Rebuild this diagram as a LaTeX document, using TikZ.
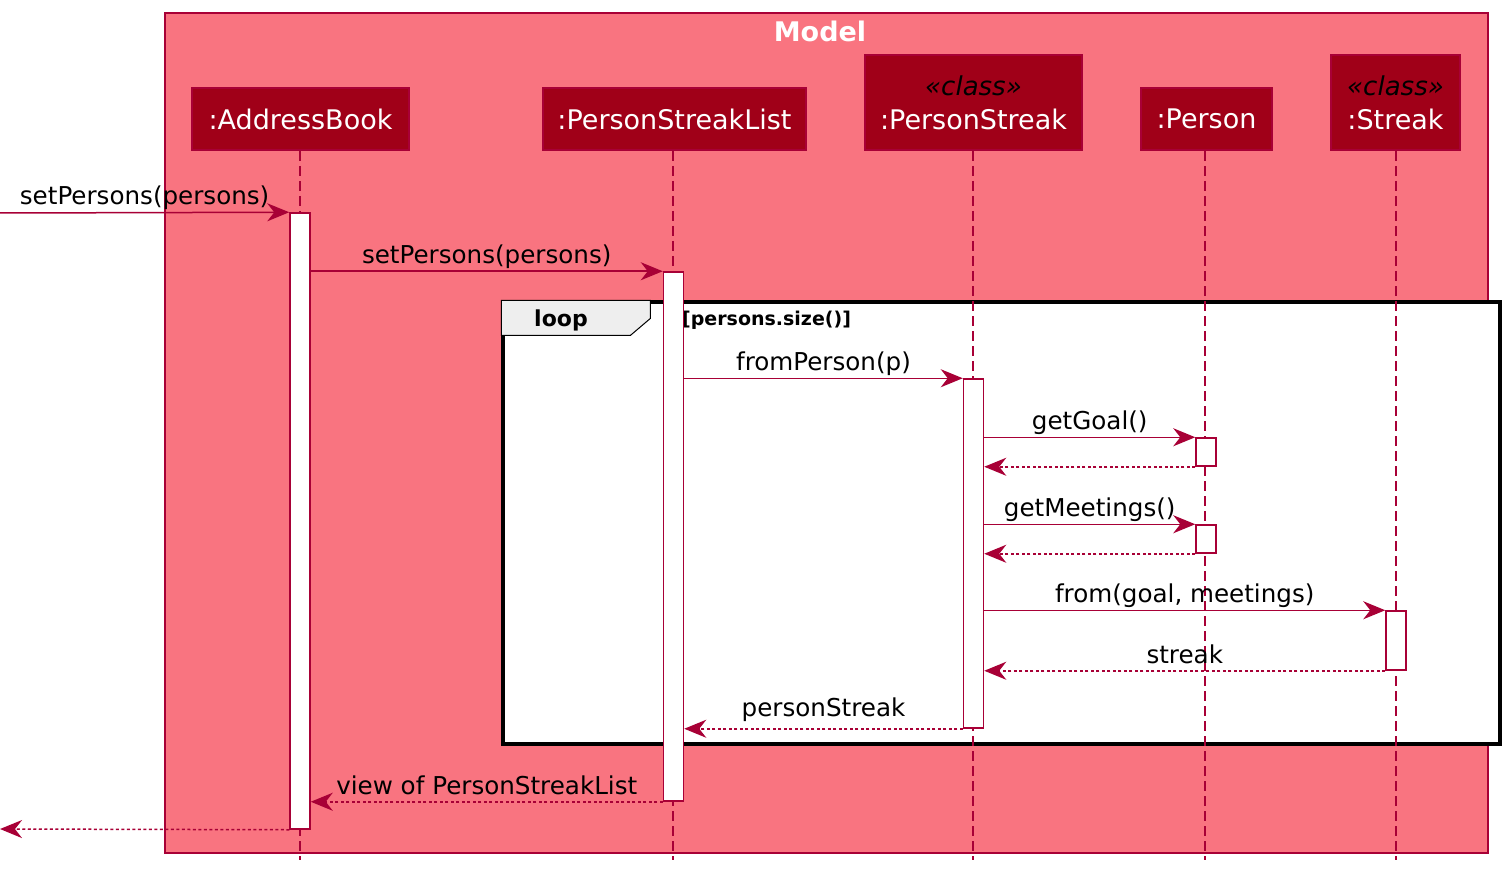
\documentclass[tikz,border=0pt]{standalone}
\usepackage{fontspec}
\setmainfont{DejaVu Sans}
\usepackage{xcolor}
\usetikzlibrary{arrows.meta}

\definecolor{umlline}{HTML}{A80036}
\definecolor{umlbox}{HTML}{F97480}
\definecolor{umlpart}{HTML}{A00018}
\definecolor{tabgrey}{HTML}{EEEEEE}

\begin{document}
\begin{tikzpicture}[
  x=1pt, y=-1pt,
  part/.style={draw=umlline, line width=2pt, fill=umlpart, text=white, inner sep=0pt, align=center,
    font=\fontsize{27}{34}\selectfont},
  act/.style={draw=umlline, line width=1.5pt, fill=white, minimum width=20pt, inner sep=0pt},
  life/.style={umlline, line width=1.3pt, dash pattern=on 10pt off 5pt},
  call/.style={umlline, line width=1.5pt, -{Stealth[length=22pt, width=18pt, inset=7pt]}},
  ret/.style={call, dash pattern=on 3pt off 2.5pt},
  lbl/.style={above, inner sep=2pt, text=black, font=\fontsize{24.6}{28}\selectfont},
  rlbl/.style={lbl, yshift=4pt}
]
\useasboundingbox (0,0) rectangle (1509,877);
% model box and loop frame
\node[draw=umlline, line width=1.5pt, fill=umlbox, minimum width=1323pt, minimum height=840pt, inner sep=0pt] (model) at (826.5,433) {};
\node[text=white, font=\bfseries\fontsize{27}{30}\selectfont] (modeltitle) at (820,31) {Model};
\node[draw=black, line width=3.2pt, fill=white, minimum width=997pt, minimum height=442pt, inner sep=0pt] (loop) at (1001.5,523) {};
\draw[black, line width=1pt, fill=tabgrey] (loop.north west) -- ++(149,0) -- ++(0,18) -- ++(-20,17) -- ++(-129,0) -- cycle;
\node[font=\bfseries\fontsize{22}{26}\selectfont] (looplbl) at (561,320) {loop};
\node[anchor=west, inner sep=0pt, font=\bfseries\fontsize{19}{22}\selectfont] (guard) at (682,320) {[persons.size()]};
% participants
\node[part, minimum width=217pt, minimum height=62pt] (addr) at (300.5,119) {:AddressBook};
\node[part, minimum width=263pt, minimum height=62pt] (psl) at (674.5,119) {:PersonStreakList};
\node[part, minimum width=217pt, minimum height=95pt] (ps) at (973.5,102.5) {{\color{black}\itshape\fontsize{26}{28}\selectfont «class»}\\:PersonStreak};
\node[part, minimum width=131pt, minimum height=62pt] (person) at (1206.5,119) {:Person};
\node[part, minimum width=129pt, minimum height=95pt] (streak) at (1395.5,102.5) {{\color{black}\itshape\fontsize{26}{28}\selectfont «class»}\\:Streak};
% lifelines
\draw[life] (300,151) -- (300,860);
\draw[life] (673,151) -- (673,860);
\draw[life] (973,151) -- (973,860);
\draw[life] (1205,151) -- (1205,860);
\draw[life] (1396,151) -- (1396,860);
% activations
\node[act, minimum height=616pt] (actAB) at (300,521) {};
\node[act, minimum height=529pt] (actPSL) at (673.5,536.5) {};
\node[act, minimum height=349pt] (actPS) at (973.5,553.5) {};
\node[act, minimum height=28pt] (actP1) at (1206,452) {};
\node[act, minimum height=28pt] (actP2) at (1206,539) {};
\node[act, minimum height=59pt] (actS) at (1396,640.5) {};
% messages
\coordinate (inL) at (0,213);
\coordinate (outL) at (0,829);
\draw[call] (inL) -- node[lbl] {setPersons(persons)} (actAB.north west);
\draw[call] (actAB.east |- actPSL.north) -- node[lbl] {setPersons(persons)} (actPSL.north west);
\draw[call] (actPSL.east |- actPS.north) -- node[lbl] {fromPerson(p)} (actPS.north west);
\draw[call] (actPS.east |- actP1.north) -- node[lbl] {getGoal()} (actP1.north west);
\draw[ret] (actP1.south west) -- (actPS.east |- actP1.south);
\draw[call] (actPS.east |- actP2.north) -- node[lbl] {getMeetings()} (actP2.north west);
\draw[ret] (actP2.south west) -- (actPS.east |- actP2.south);
\draw[call] (actPS.east |- actS.north) -- node[lbl] {from(goal, meetings)} (actS.north west);
\draw[ret] (actS.south west) -- node[rlbl] {streak} (actPS.east |- actS.south);
\draw[ret] (actPS.south west) -- node[rlbl] {personStreak} (actPSL.east |- actPS.south);
\draw[ret] (actPSL.south west) -- node[rlbl] {view of PersonStreakList} (actAB.east |- actPSL.south);
\draw[ret] (actAB.south west) -- (outL);
\end{tikzpicture}
\end{document}
